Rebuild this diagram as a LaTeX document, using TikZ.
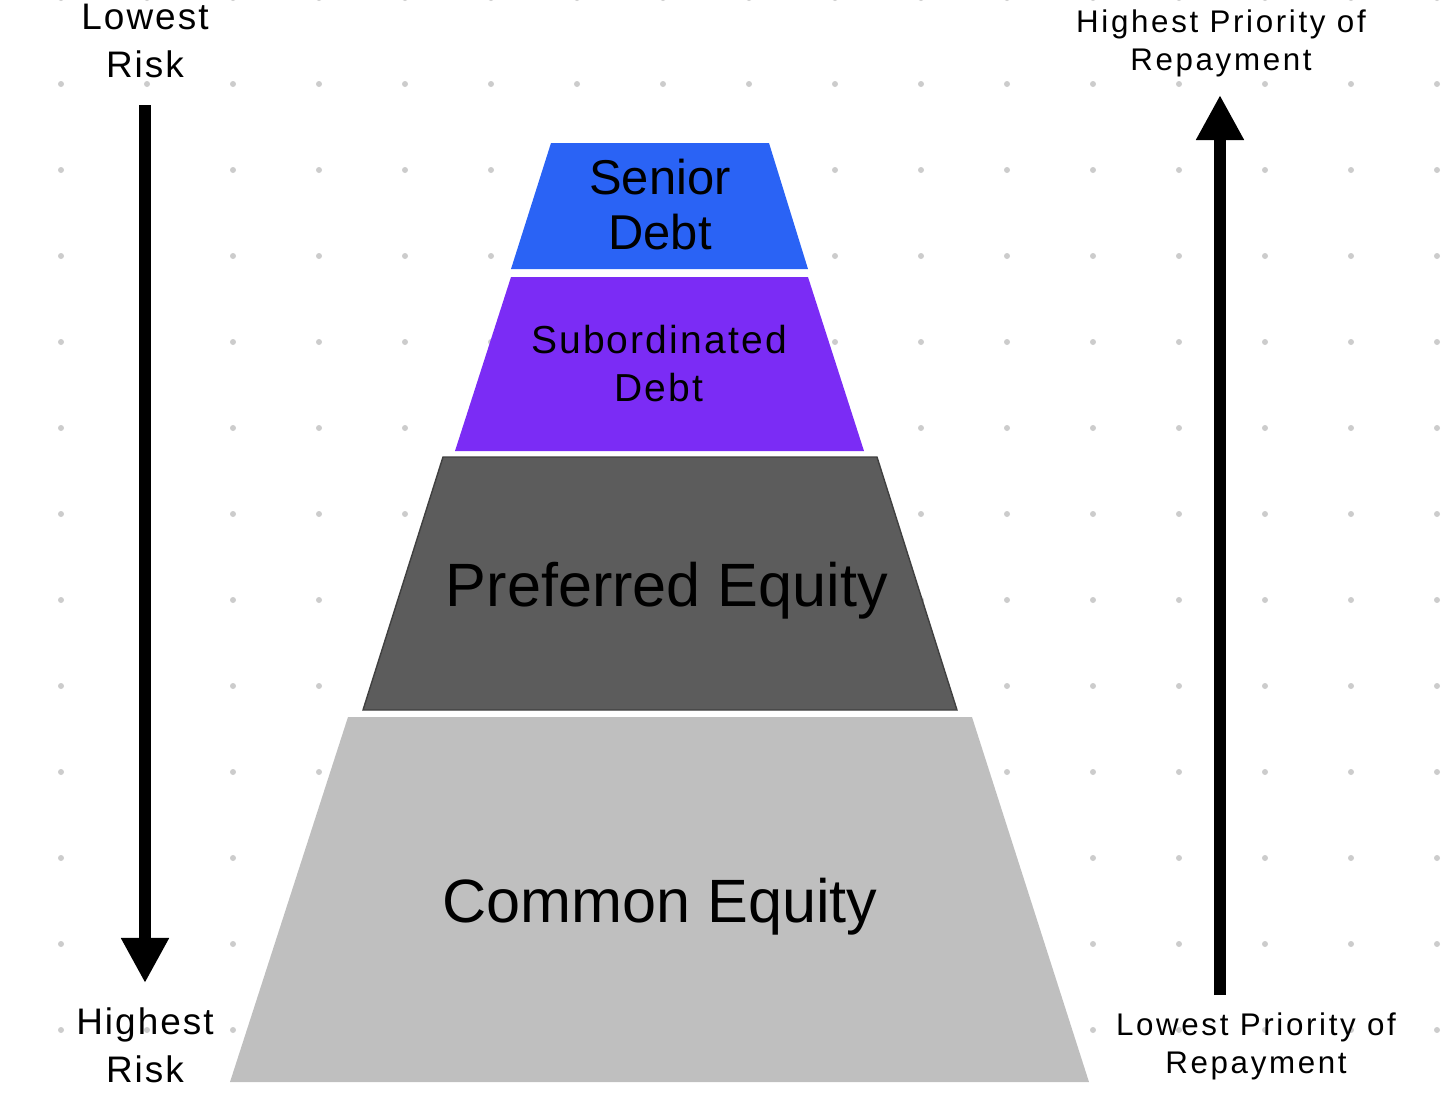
\documentclass[tikz,border=0pt]{standalone}
\usepackage{fontspec}
\setmainfont{Liberation Sans}
\newfontfamily\trackedsf[LetterSpace=5.5]{Liberation Sans}
\newfontfamily\widesf[LetterSpace=8.5]{Liberation Sans}
\usetikzlibrary{arrows.meta}

\definecolor{seniorblue}{RGB}{42,99,245}
\definecolor{subpurple}{RGB}{123,44,245}
\definecolor{prefgrey}{RGB}{92,92,92}
\definecolor{commongrey}{RGB}{191,191,191}
\definecolor{dotgrey}{RGB}{204,204,204}

\tikzset{
  riskarrow/.style={line width=0.11cm, -{Triangle[width=0.45cm,length=0.45cm]}},
  sidelabel/.style={inner sep=0pt, align=center},
  layerlabel/.style={inner sep=0pt, align=center}
}

\begin{document}
\begin{tikzpicture}[x=0.01cm, y=-0.01cm]

			\useasboundingbox (0,0) rectangle (1456,1108);

			% dot grid
			\foreach \i in {0,...,16}
				\foreach \j in {0,...,12}
					\fill[dotgrey] (61+86*\i, -2+86*\j) circle (3);

			\coordinate (sd1) at (551, 143);
\coordinate (sd2) at (769, 143);
\coordinate (sd3) at (808, 269);
\coordinate (sd4) at (511, 269);
\coordinate (sb1) at (511, 277);
\coordinate (sb2) at (808, 277);
\coordinate (sb3) at (864, 451);
\coordinate (sb4) at (455, 451);
\coordinate (pe1) at (443, 457);
\coordinate (pe2) at (877, 457);
\coordinate (pe3) at (957, 710);
\coordinate (pe4) at (363, 710);
\coordinate (ce1) at (348, 717);
\coordinate (ce2) at (972, 717);
\coordinate (ce3) at (1089, 1082);
\coordinate (ce4) at (230, 1082);

			\fill[seniorblue] (sd1) -- (sd2) -- (sd3) -- (sd4) -- cycle;
			\fill[subpurple] (sb1) -- (sb2) -- (sb3) -- (sb4) -- cycle;
			\filldraw[fill=prefgrey, draw=black!75, line width=0.4pt] (pe1) -- (pe2) -- (pe3) -- (pe4) -- cycle;
			\fill[commongrey] (ce1) -- (ce2) -- (ce3) -- (ce4) -- cycle;

			\node[layerlabel, font=\fontsize{13.9}{15.4}\selectfont] (senior) at (660, 204.5) {Senior\\Debt};
			\node[layerlabel, font=\trackedsf\fontsize{11.1}{13.9}\selectfont] (subord) at (659, 363.5) {Subordinated\\Debt};
			\node[layerlabel, anchor=base, font=\fontsize{17.4}{20}\selectfont] (preferred) at (667, 606) {Preferred Equity};
			\node[layerlabel, anchor=base, font=\fontsize{17.4}{20}\selectfont] (common) at (660, 922) {Common Equity};

			\node[sidelabel, font=\trackedsf\fontsize{10.5}{13.66}\selectfont] (lowrisk) at (145, 40.7) {Lowest\\Risk};
			\node[sidelabel, font=\trackedsf\fontsize{10.5}{13.66}\selectfont] (highrisk) at (145, 1045.7) {Highest\\Risk};
			\node[sidelabel, font=\widesf\fontsize{8.9}{10.8}\selectfont] (highprio) at (1221, 43) {Highest Priority of\\Repayment};
			\node[sidelabel, font=\widesf\fontsize{8.9}{10.8}\selectfont] (lowprio) at (1256, 1046) {Lowest Priority of\\Repayment};

			\coordinate (riskstart) at (145, 105);
\coordinate (riskend) at (145, 983);
\coordinate (priostart) at (1220, 995);
\coordinate (prioend) at (1220, 95);

			\draw[riskarrow] (riskstart) -- (riskend);
			\draw[riskarrow] (priostart) -- (prioend);

		\end{tikzpicture}
\end{document}
